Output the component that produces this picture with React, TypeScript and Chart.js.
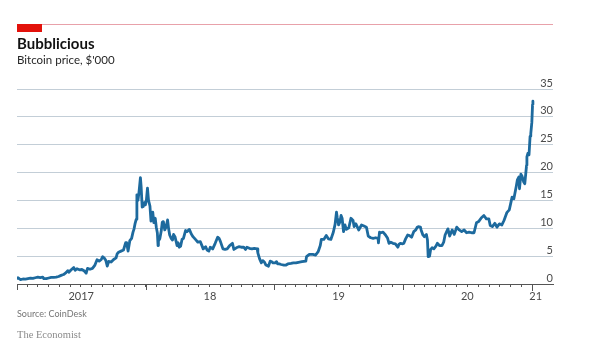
import React, { useEffect, useRef } from "react";
import { Chart, registerables } from "chart.js";

Chart.register(...registerables);

// Bitcoin price, $'000
const btc2017: [string, number][] = [
  ["2017-01-01", 0.99], ["2017-01-04", 1.13], ["2017-01-08", 0.91], ["2017-01-11", 0.78],
  ["2017-01-18", 0.9], ["2017-01-25", 0.89], ["2017-02-01", 0.98], ["2017-02-08", 1.05],
  ["2017-02-15", 1.01], ["2017-02-22", 1.12], ["2017-03-01", 1.22], ["2017-03-08", 1.15],
  ["2017-03-15", 1.25], ["2017-03-18", 0.97], ["2017-03-25", 0.96], ["2017-04-01", 1.08],
  ["2017-04-08", 1.19], ["2017-04-15", 1.18], ["2017-04-22", 1.23], ["2017-04-29", 1.35],
  ["2017-05-06", 1.55], ["2017-05-13", 1.7], ["2017-05-20", 2.05], ["2017-05-25", 2.4],
  ["2017-05-28", 2.1], ["2017-06-03", 2.5], ["2017-06-08", 2.8], ["2017-06-11", 2.95],
  ["2017-06-15", 2.45], ["2017-06-20", 2.75], ["2017-06-27", 2.55], ["2017-07-04", 2.6],
  ["2017-07-11", 2.33], ["2017-07-16", 1.93], ["2017-07-20", 2.8], ["2017-07-27", 2.65],
  ["2017-08-03", 2.8], ["2017-08-10", 3.4], ["2017-08-16", 4.35], ["2017-08-22", 4.1],
  ["2017-08-28", 4.4], ["2017-09-01", 4.9], ["2017-09-06", 4.6], ["2017-09-10", 4.2],
  ["2017-09-14", 3.2], ["2017-09-18", 4.05], ["2017-09-25", 3.95], ["2017-10-02", 4.4],
  ["2017-10-09", 4.7], ["2017-10-12", 5.4], ["2017-10-16", 5.7], ["2017-10-23", 5.9],
  ["2017-10-30", 6.1], ["2017-11-05", 7.4], ["2017-11-08", 7.4], ["2017-11-12", 5.9],
  ["2017-11-17", 7.8], ["2017-11-22", 8.2], ["2017-11-26", 9.3], ["2017-11-29", 9.9],
  ["2017-12-02", 10.9], ["2017-12-05", 11.6], ["2017-12-07", 16.0], ["2017-12-10", 15.0],
  ["2017-12-13", 16.5], ["2017-12-17", 19.1], ["2017-12-19", 17.5], ["2017-12-22", 13.8],
  ["2017-12-25", 13.9], ["2017-12-28", 14.6], ["2017-12-31", 14.2],
];

const btc2018: [string, number][] = [
  ["2018-01-03", 15.1], ["2018-01-06", 17.2], ["2018-01-09", 15.0], ["2018-01-13", 14.0],
  ["2018-01-16", 11.3], ["2018-01-19", 11.6], ["2018-01-21", 12.9], ["2018-01-24", 11.0],
  ["2018-01-28", 11.8], ["2018-01-31", 10.2], ["2018-02-03", 9.2], ["2018-02-05", 6.9],
  ["2018-02-06", 7.7], ["2018-02-10", 8.1], ["2018-02-14", 9.5], ["2018-02-17", 11.1],
  ["2018-02-20", 11.2], ["2018-02-24", 9.7], ["2018-02-28", 10.3], ["2018-03-04", 11.5],
  ["2018-03-07", 9.9], ["2018-03-10", 8.8], ["2018-03-14", 8.2], ["2018-03-18", 7.9],
  ["2018-03-21", 8.9], ["2018-03-25", 8.5], ["2018-03-31", 6.9], ["2018-04-03", 7.4],
  ["2018-04-06", 6.6], ["2018-04-10", 6.8], ["2018-04-14", 8.0], ["2018-04-18", 8.2],
  ["2018-04-24", 9.6], ["2018-04-28", 9.4], ["2018-05-05", 9.8], ["2018-05-10", 9.0],
  ["2018-05-15", 8.5], ["2018-05-22", 8.0], ["2018-05-29", 7.5], ["2018-06-05", 7.6],
  ["2018-06-10", 6.8], ["2018-06-13", 6.3], ["2018-06-20", 6.7], ["2018-06-24", 6.1],
  ["2018-06-29", 5.9], ["2018-07-03", 6.6], ["2018-07-10", 6.3], ["2018-07-17", 7.3],
  ["2018-07-24", 8.4], ["2018-07-28", 8.2], ["2018-08-01", 7.6], ["2018-08-08", 6.3],
  ["2018-08-14", 6.2], ["2018-08-20", 6.3], ["2018-08-27", 6.9], ["2018-09-04", 7.3],
  ["2018-09-08", 6.2], ["2018-09-15", 6.5], ["2018-09-22", 6.7], ["2018-09-29", 6.6],
  ["2018-10-06", 6.6], ["2018-10-11", 6.2], ["2018-10-15", 6.6], ["2018-10-22", 6.4],
  ["2018-10-29", 6.3], ["2018-11-05", 6.4], ["2018-11-13", 6.3], ["2018-11-15", 5.6],
  ["2018-11-20", 4.5], ["2018-11-25", 3.8], ["2018-11-29", 4.2], ["2018-12-04", 3.9],
  ["2018-12-08", 3.4], ["2018-12-15", 3.2], ["2018-12-20", 4.1], ["2018-12-24", 4.0],
  ["2018-12-28", 3.8],
];

const btc2019: [string, number][] = [
  ["2019-01-03", 3.8], ["2019-01-07", 4.0], ["2019-01-10", 3.6], ["2019-01-15", 3.6],
  ["2019-01-20", 3.5], ["2019-01-28", 3.4], ["2019-02-03", 3.4], ["2019-02-08", 3.6],
  ["2019-02-17", 3.7], ["2019-02-24", 3.8], ["2019-03-03", 3.8], ["2019-03-10", 3.9],
  ["2019-03-20", 4.0], ["2019-03-31", 4.1], ["2019-04-02", 4.9], ["2019-04-10", 5.3],
  ["2019-04-20", 5.3], ["2019-04-28", 5.2], ["2019-05-05", 5.8], ["2019-05-11", 6.9],
  ["2019-05-14", 8.0], ["2019-05-21", 8.0], ["2019-05-28", 8.7], ["2019-06-03", 8.1],
  ["2019-06-10", 8.0], ["2019-06-17", 9.3], ["2019-06-22", 10.7], ["2019-06-26", 12.9],
  ["2019-06-28", 12.0], ["2019-07-02", 10.6], ["2019-07-06", 11.2], ["2019-07-09", 12.3],
  ["2019-07-12", 11.8], ["2019-07-16", 9.4], ["2019-07-20", 10.6], ["2019-07-24", 9.8],
  ["2019-07-31", 10.1], ["2019-08-06", 11.8], ["2019-08-12", 11.4], ["2019-08-15", 10.3],
  ["2019-08-20", 10.8], ["2019-08-28", 9.7], ["2019-09-05", 10.6], ["2019-09-12", 10.4],
  ["2019-09-19", 10.2], ["2019-09-24", 8.6], ["2019-10-01", 8.3], ["2019-10-08", 8.2],
  ["2019-10-15", 8.3], ["2019-10-22", 8.2], ["2019-10-23", 7.4], ["2019-10-26", 9.3],
  ["2019-10-30", 9.2], ["2019-11-05", 9.3], ["2019-11-12", 8.8], ["2019-11-18", 8.2],
  ["2019-11-22", 7.3], ["2019-11-27", 7.5], ["2019-12-03", 7.3], ["2019-12-10", 7.2],
  ["2019-12-17", 6.6], ["2019-12-20", 7.1], ["2019-12-24", 7.3], ["2019-12-31", 7.2],
];

const btc2020: [string, number][] = [
  ["2020-01-03", 7.3], ["2020-01-08", 8.1], ["2020-01-14", 8.8], ["2020-01-19", 8.7],
  ["2020-01-25", 8.4], ["2020-01-31", 9.4], ["2020-02-06", 9.7], ["2020-02-10", 10.2],
  ["2020-02-13", 10.3], ["2020-02-19", 10.2], ["2020-02-21", 9.7], ["2020-02-26", 8.8],
  ["2020-03-01", 8.5], ["2020-03-07", 8.9], ["2020-03-10", 7.9], ["2020-03-12", 4.9],
  ["2020-03-16", 5.0], ["2020-03-19", 6.2], ["2020-03-23", 6.5], ["2020-03-28", 6.3],
  ["2020-04-03", 6.8], ["2020-04-07", 7.3], ["2020-04-13", 6.9], ["2020-04-20", 6.9],
  ["2020-04-25", 7.5], ["2020-04-29", 8.8], ["2020-05-07", 9.9], ["2020-05-12", 8.6],
  ["2020-05-19", 9.7], ["2020-05-25", 8.9], ["2020-06-01", 10.2], ["2020-06-08", 9.7],
  ["2020-06-15", 9.4], ["2020-06-22", 9.7], ["2020-06-29", 9.2], ["2020-07-06", 9.3],
  ["2020-07-13", 9.2], ["2020-07-20", 9.2], ["2020-07-27", 11.0], ["2020-08-02", 11.2],
  ["2020-08-10", 11.9], ["2020-08-17", 12.3], ["2020-08-24", 11.7], ["2020-08-31", 11.7],
  ["2020-09-04", 10.5], ["2020-09-10", 10.3], ["2020-09-17", 10.9], ["2020-09-23", 10.2],
  ["2020-09-30", 10.8], ["2020-10-07", 10.6], ["2020-10-13", 11.4], ["2020-10-21", 12.8],
  ["2020-10-28", 13.3], ["2020-11-05", 15.6], ["2020-11-10", 15.3], ["2020-11-17", 17.6],
  ["2020-11-20", 18.7], ["2020-11-24", 19.2], ["2020-11-26", 17.1], ["2020-11-30", 19.7],
  ["2020-12-03", 19.4], ["2020-12-08", 18.3], ["2020-12-11", 18.0], ["2020-12-16", 21.3],
  ["2020-12-17", 22.8], ["2020-12-20", 23.5], ["2020-12-23", 23.2], ["2020-12-26", 26.5],
  ["2020-12-28", 27.0], ["2020-12-31", 29.0],
];

const btc2021: [string, number][] = [
  ["2021-01-02", 32.2], ["2021-01-03", 32.8],
];

const yMin = 0;
const yMax = 35;
const yStep = 5;
const yearTickDates = ["2017-01-01", "2018-01-01", "2019-01-01", "2020-01-01", "2021-01-01"];
const yearLabels = ["2017", "18", "19", "20", "21"];
const yearLabelDates = ["2017-07-02", "2018-07-02", "2019-07-02", "2020-07-01", "2021-01-11"];
const axisStart = "2017-01-01";
const axisEnd = "2021-03-01";

const dayOf = (s: string) =>
  (Date.UTC(+s.slice(0, 4), +s.slice(5, 7) - 1, +s.slice(8, 10)) - Date.UTC(2017, 0, 1)) / 86400000;

const monthTickValues: number[] = [];
for (let y = 2017; y <= 2020; y++) {
  for (let m = 0; m < 12; m++) {
    monthTickValues.push((Date.UTC(y, m, 1) - Date.UTC(2017, 0, 1)) / 86400000);
  }
}
monthTickValues.push(dayOf("2021-01-01"));

const AXIS = "#555555";
const GRID = "#c3ced7";
const LINE = "#1d6a9e";
const LABEL = "#4a4a4a";

const econAxisPlugin = {
  id: "econAxis",
  afterDraw(chart: any) {
    const { ctx, chartArea, scales } = chart;
    const x = scales.x;
    ctx.save();
    ctx.strokeStyle = AXIS;
    ctx.lineWidth = 1;
    yearTickDates.forEach((d, i) => {
      const px = Math.round(x.getPixelForValue(dayOf(d))) + 0.5;
      ctx.beginPath();
      ctx.moveTo(px, chartArea.bottom);
      ctx.lineTo(px, chartArea.bottom + (i === yearTickDates.length - 1 ? 7 : 6));
      ctx.stroke();
    });
    ctx.fillStyle = LABEL;
    ctx.font = "11px Lato";
    ctx.textAlign = "center";
    ctx.textBaseline = "alphabetic";
    yearLabels.forEach((l, i) => {
      ctx.fillText(l, x.getPixelForValue(dayOf(yearLabelDates[i])), 300);
    });
    ctx.restore();
  },
};

export default function App() {
  const ref = useRef<HTMLCanvasElement | null>(null);

  useEffect(() => {
    if (!ref.current) return;
    const all = [...btc2017, ...btc2018, ...btc2019, ...btc2020, ...btc2021];
    const chart = new Chart(ref.current, {
      type: "line",
      data: {
        datasets: [
          {
            data: all.map(([d, v]) => ({ x: dayOf(d), y: v })),
            borderColor: LINE,
            borderWidth: 2.8,
            pointRadius: 0,
            tension: 0,
            borderJoinStyle: "round",
            borderCapStyle: "round",
            fill: false,
          },
        ],
      },
      options: {
        animation: false,
        responsive: false,
        events: [],
        layout: { padding: { left: 17, right: 47, top: 89, bottom: 66 } },
        plugins: { legend: { display: false }, tooltip: { enabled: false } },
        scales: {
          x: {
            type: "linear",
            min: dayOf(axisStart),
            max: dayOf(axisEnd),
            afterBuildTicks: (s: any) => {
              s.ticks = monthTickValues.map((v) => ({ value: v }));
            },
            ticks: { display: false },
            grid: {
              drawOnChartArea: false,
              drawTicks: true,
              tickLength: 3,
              color: AXIS,
              lineWidth: 1,
            },
            border: { display: true, color: AXIS, width: 1 },
          },
          y: {
            position: "right",
            min: yMin,
            max: yMax,
            ticks: {
              stepSize: yStep,
              mirror: true,
              padding: 0,
              labelOffset: -6,
              color: LABEL,
              font: { family: "Lato", size: 11 },
            },
            grid: {
              drawTicks: false,
              color: (c: any) => (c.tick && c.tick.value === 0 ? AXIS : GRID),
              lineWidth: 1,
            },
            border: { display: false },
          },
        },
      },
      plugins: [econAxisPlugin],
    });
    return () => chart.destroy();
  }, []);

  const abs = (s: React.CSSProperties): React.CSSProperties => ({ position: "absolute", margin: 0, whiteSpace: "nowrap", ...s });

  return (
    <div style={{ position: "fixed", left: 0, top: 0, width: 600, height: 353, background: "#fff", overflow: "hidden" }}>
      <canvas ref={ref} width={600} height={353} style={{ position: "absolute", left: 0, top: 0, width: 600, height: 353 }} />
      <div style={abs({ left: 17, top: 24, width: 536, height: 1, background: "#e8a1aa" })} />
      <div style={abs({ left: 17, top: 24, width: 25, height: 8, background: "#e3120b" })} />
      <div style={abs({ left: 17, top: 35.5, font: "700 15px Lato", lineHeight: "15px", color: "#121212" })}>Bubblicious</div>
      <div style={abs({ left: 17, top: 54, font: "11.5px Lato", lineHeight: "11.5px", color: "#262626" })}>Bitcoin price, $'000</div>
      <div style={abs({ left: 17, top: 308.5, font: "9px Lato", lineHeight: "9px", color: "#767676" })}>Source: CoinDesk</div>
      <div style={abs({ left: 17, top: 329.5, font: "10.5px 'Liberation Serif'", lineHeight: "10.5px", color: "#8a8a8a" })}>The Economist</div>
    </div>
  );
}
